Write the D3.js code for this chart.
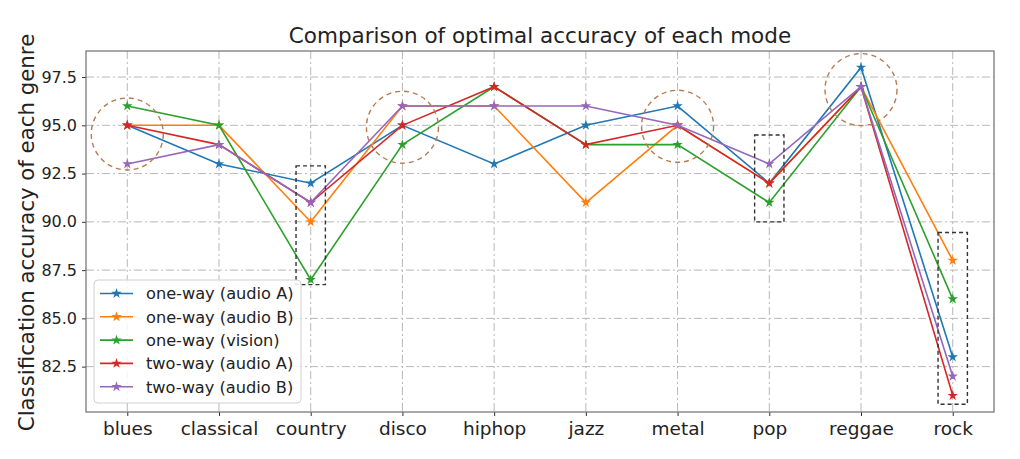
<!DOCTYPE html>
<html>
<head>
<meta charset="utf-8">
<script src="https://cdn.jsdelivr.net/npm/d3@7"></script>
<style>
body { margin: 0; background: #fff; }
svg { font-family: "DejaVu Sans", sans-serif; }
</style>
</head>
<body>
<svg id="chart" width="1020" height="459"></svg>
<script>
// 类别与各模式准确率
var genres = ["blues", "classical", "country", "disco", "hiphop", "jazz", "metal", "pop", "reggae", "rock"];
var yTicks = [82.5, 85.0, 87.5, 90.0, 92.5, 95.0, 97.5];
var oneWayA = [95, 93, 92, 95, 93, 95, 96, 92, 98, 83];
var oneWayB = [95, 95, 90, 96, 96, 91, 95, 92, 97, 88];
var oneWayV = [96, 95, 87, 94, 97, 94, 94, 91, 97, 86];
var twoWayA = [95, 94, 91, 95, 97, 94, 95, 92, 97, 81];
var twoWayB = [93, 94, 91, 96, 96, 96, 95, 93, 97, 82];
var seriesNames = ["one-way (audio A)", "one-way (audio B)", "one-way (vision)", "two-way (audio A)", "two-way (audio B)"];
var seriesColors = ["#1f77b4", "#ff7f0e", "#2ca02c", "#d62728", "#9467bd"];
// 标注: 圆圈 [类别序号, 中心值], 虚线框 [类别序号, 下沿, 上沿]
var circleMarks = [[0, 94.55], [3, 94.9], [6, 94.95], [8, 96.85]];
var boxMarks = [[2, 86.75, 92.9], [7, 90.0, 94.5], [9, 80.55, 89.45]];

var allSeries = [oneWayA, oneWayB, oneWayV, twoWayA, twoWayB];

function drawChart() {
    var svg = d3.select("#chart");
    var pLeft = 86, pRight = 994, pTop = 51, pBottom = 412;

    var x = d3.scaleLinear().domain([-0.45, 9.45]).range([pLeft, pRight]);
    var y = d3.scaleLinear().domain([80.15, 98.85]).range([pBottom, pTop]);

    // 网格
    var grid = svg.append("g").attr("id", "grid");
    grid.selectAll("line.gx")
        .data(genres)
        .enter()
        .append("line")
        .attr("class", "gx")
        .attr("x1", function (d, i) { return x(i); })
        .attr("x2", function (d, i) { return x(i); })
        .attr("y1", pTop)
        .attr("y2", pBottom)
        .attr("stroke", "#b8b8b8")
        .attr("stroke-width", 1)
        .attr("stroke-dasharray", "8,3,2,3");
    grid.selectAll("line.gy")
        .data(yTicks)
        .enter()
        .append("line")
        .attr("class", "gy")
        .attr("x1", pLeft)
        .attr("x2", pRight)
        .attr("y1", function (d) { return y(d); })
        .attr("y2", function (d) { return y(d); })
        .attr("stroke", "#b8b8b8")
        .attr("stroke-width", 1)
        .attr("stroke-dasharray", "8,3,2,3");

    // 坐标轴
    var xAxis = d3.axisBottom(x)
        .tickValues(d3.range(genres.length))
        .tickFormat(function (i) { return genres[i]; })
        .tickSize(4)
        .tickPadding(6);
    var gx = svg.append("g")
        .attr("transform", "translate(0," + pBottom + ")")
        .call(xAxis);
    gx.select(".domain").remove();
    gx.selectAll("text").attr("font-size", 18.5).attr("fill", "#222").attr("font-family", "DejaVu Sans");
    gx.selectAll("line").attr("stroke", "#333");

    var yAxis = d3.axisLeft(y)
        .tickValues(yTicks)
        .tickFormat(d3.format(".1f"))
        .tickSize(4)
        .tickPadding(5);
    var gy = svg.append("g")
        .attr("transform", "translate(" + pLeft + ",0)")
        .call(yAxis);
    gy.select(".domain").remove();
    gy.selectAll("text").attr("font-size", 16).attr("fill", "#222").attr("font-family", "DejaVu Sans");
    gy.selectAll("line").attr("stroke", "#333");

    // 边框
    svg.append("rect")
        .attr("x", pLeft)
        .attr("y", pTop)
        .attr("width", pRight - pLeft)
        .attr("height", pBottom - pTop)
        .attr("fill", "none")
        .attr("stroke", "#6e6e6e")
        .attr("stroke-width", 1.2);

    // 折线
    var line = d3.line()
        .x(function (d, i) { return x(i); })
        .y(function (d) { return y(d); });
    var star = d3.symbol().type(d3.symbolStar).size(34);

    allSeries.forEach(function (vals, k) {
        var g = svg.append("g").attr("class", "series");
        g.append("path")
            .datum(vals)
            .attr("d", line)
            .attr("fill", "none")
            .attr("stroke", seriesColors[k])
            .attr("stroke-width", 1.6);
        g.selectAll("path.pt")
            .data(vals)
            .enter()
            .append("path")
            .attr("class", "pt")
            .attr("d", star)
            .attr("transform", function (d, i) {
                return "translate(" + x(i) + "," + y(d) + ")";
            })
            .attr("fill", seriesColors[k]);
    });

    // 标注圆圈
    svg.append("g").selectAll("circle")
        .data(circleMarks)
        .enter()
        .append("circle")
        .attr("cx", function (d) { return x(d[0]); })
        .attr("cy", function (d) { return y(d[1]); })
        .attr("r", 36)
        .attr("fill", "none")
        .attr("stroke", "#b87a4f")
        .attr("stroke-width", 1.4)
        .attr("stroke-dasharray", "5,4");

    // 标注虚线框
    svg.append("g").selectAll("rect")
        .data(boxMarks)
        .enter()
        .append("rect")
        .attr("x", function (d) { return x(d[0] - 0.16); })
        .attr("y", function (d) { return y(d[2]); })
        .attr("width", function (d) { return x(d[0] + 0.16) - x(d[0] - 0.16); })
        .attr("height", function (d) { return y(d[1]) - y(d[2]); })
        .attr("fill", "none")
        .attr("stroke", "#333")
        .attr("stroke-width", 1.4)
        .attr("stroke-dasharray", "4,3");

    // 图例
    var lg = svg.append("g").attr("transform", "translate(94,280)");
    lg.append("rect")
        .attr("width", 207)
        .attr("height", 123)
        .attr("rx", 4)
        .attr("fill", "#fff")
        .attr("fill-opacity", 0.85)
        .attr("stroke", "#d0d0d0");
    seriesNames.forEach(function (name, k) {
        var yy = 13.5 + k * 23.3;
        lg.append("line")
            .attr("x1", 6).attr("x2", 39)
            .attr("y1", yy).attr("y2", yy)
            .attr("stroke", seriesColors[k])
            .attr("stroke-width", 1.6);
        lg.append("path")
            .attr("d", star)
            .attr("transform", "translate(22.5," + yy + ")")
            .attr("fill", seriesColors[k]);
        lg.append("text")
            .attr("x", 52)
            .attr("y", yy)
            .attr("dy", "0.36em")
            .attr("font-size", 16.2)
            .attr("fill", "#222")
            .text(name);
    });

    // 标题与轴标签
    svg.append("text")
        .attr("x", (pLeft + pRight) / 2)
        .attr("y", 43.3)
        .attr("text-anchor", "middle")
        .attr("font-size", 21.5)
        .attr("fill", "#222")
        .text("Comparison of optimal accuracy of each mode");

    svg.append("text")
        .attr("transform", "translate(34," + ((pTop + pBottom) / 2 + 1) + ") rotate(-90)")
        .attr("text-anchor", "middle")
        .attr("font-size", 21.3)
        .attr("fill", "#222")
        .text("Classification accuracy of each genre");
}

drawChart();
</script>
</body>
</html>
